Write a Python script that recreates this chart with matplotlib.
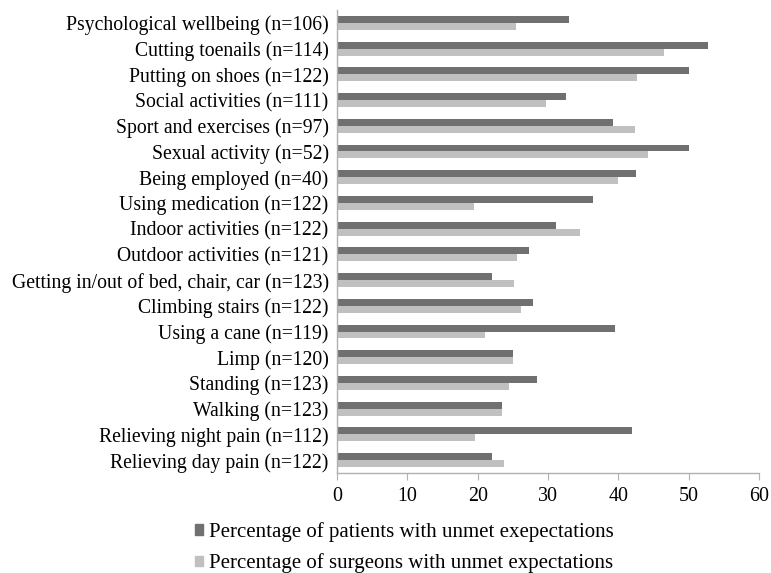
import matplotlib
matplotlib.use("Agg")
import matplotlib.pyplot as plt
import numpy as np
from matplotlib.patches import Patch

categories = [
    "Psychological wellbeing (n=106)",
    "Cutting toenails (n=114)",
    "Putting on shoes (n=122)",
    "Social activities (n=111)",
    "Sport and exercises (n=97)",
    "Sexual activity (n=52)",
    "Being employed (n=40)",
    "Using medication (n=122)",
    "Indoor activities (n=122)",
    "Outdoor activities (n=121)",
    "Getting in/out of bed, chair, car (n=123)",
    "Climbing stairs (n=122)",
    "Using a cane (n=119)",
    "Limp (n=120)",
    "Standing (n=123)",
    "Walking (n=123)",
    "Relieving night pain (n=112)",
    "Relieving day pain (n=122)",
]
patients = [33.0, 52.7, 50.1, 32.5, 39.2, 50.1, 42.5, 36.4, 31.2,
            27.3, 22.0, 27.9, 39.5, 25.0, 28.4, 23.5, 42.0, 22.1]
surgeons = [25.5, 46.5, 42.6, 29.7, 42.3, 44.2, 40.0, 19.5, 34.5,
            25.6, 25.2, 26.2, 21.0, 25.0, 24.4, 23.5, 19.6, 23.8]
legend_labels = [
    "Percentage of patients with unmet exepectations",
    "Percentage of surgeons with unmet expectations",
]
xticks = [0, 10, 20, 30, 40, 50, 60]

DARK = "#707070"
LIGHT = "#c0c0c0"

plt.rcParams["font.family"] = ["Liberation Serif", "DejaVu Serif"]

fig = plt.figure(figsize=(7.71, 5.73), dpi=100)
ax = fig.add_axes([337 / 771, 1 - 473 / 573, (759 - 337) / 771, (473 - 10) / 573])

y = np.arange(len(categories))
h = 0.27
ax.barh(y - h / 2, patients, height=h, color=DARK)
ax.barh(y + h / 2, surgeons, height=h, color=LIGHT)

ax.set_ylim(len(categories) - 0.5, -0.5)
ax.set_xlim(0, 60)
ax.set_xticks(xticks)
ax.set_yticks(y)
ax.set_yticklabels(categories, fontsize=14.2)
ax.tick_params(axis="x", labelsize=14.4, length=5, color="#b0b0b0", pad=5)
ax.tick_params(axis="y", length=0, pad=6)

for side in ["top", "right"]:
    ax.spines[side].set_visible(False)
for side in ["left", "bottom"]:
    ax.spines[side].set_color("#b0b0b0")
    ax.spines[side].set_linewidth(1.0)

handles = [Patch(color=DARK), Patch(color=LIGHT)]
fig.legend(handles, legend_labels, loc="upper left",
           bbox_to_anchor=(195 / 771, 1 - 522 / 573), frameon=False,
           fontsize=15, handlelength=0.38, handleheight=0.38,
           handletextpad=0.29, labelspacing=0.55, borderpad=0, borderaxespad=0)

fig.savefig("out.png", dpi=100)
